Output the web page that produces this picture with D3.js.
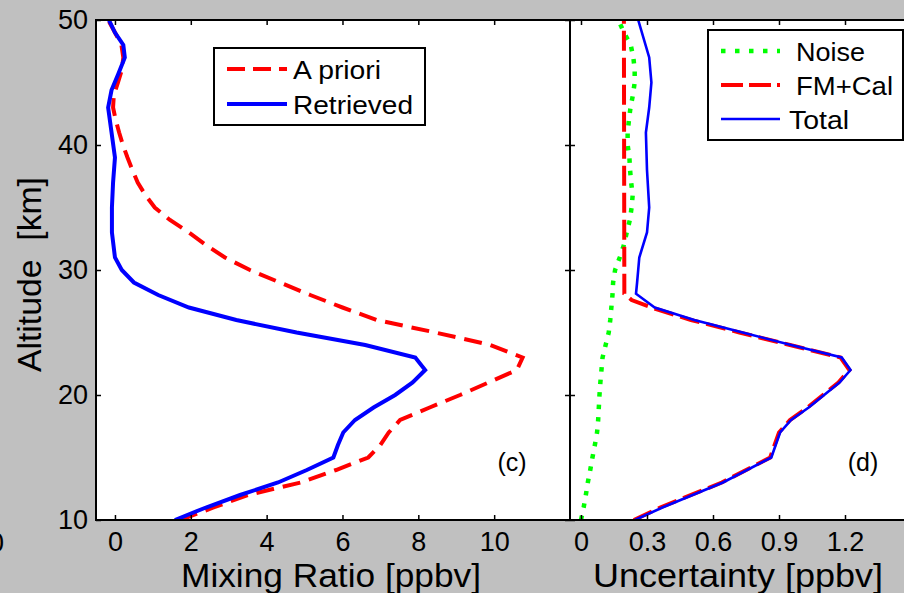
<!DOCTYPE html>
<html>
<head>
<meta charset="utf-8">
<script src="https://cdn.jsdelivr.net/npm/d3@7/dist/d3.min.js"></script>
<style>
  html, body { margin: 0; padding: 0; background: #c0c0c0; }
  svg { display: block; }
  text { font-family: "Liberation Sans", Arial, Helvetica, sans-serif; fill: #000; }
</style>
</head>
<body>
<svg id="chart" width="904" height="593"></svg>
<script>
// ---- Panel (c): mixing ratio profiles ----
const altRetrieved = [10, 11, 12, 13, 14, 15, 16, 17, 18, 19, 20, 21, 22, 23, 24, 25, 26, 27, 28, 29, 30, 31, 33, 35, 37, 39, 41, 43, 44.4, 45.7, 47, 48, 49, 50];
const retrieved    = [1.58, 2.4, 3.3, 4.3, 5.06, 5.76, 5.88, 6.02, 6.33, 6.82, 7.39, 7.85, 8.18, 7.92, 6.6, 4.79, 3.2, 1.95, 1.14, 0.5, 0.18, 0.0, -0.08, -0.08, -0.05, 0.0, -0.09, -0.18, -0.09, 0.09, 0.26, 0.22, 0.0, -0.16];

const altApriori = [10, 11, 12, 13, 14, 15, 16, 17, 18, 19, 20, 21, 22, 23, 24, 25, 26, 27, 28, 29, 30, 31, 32, 33, 34, 35, 36, 37, 38, 39, 40, 41, 42, 43, 44, 45, 46, 47, 48, 49, 50];
const apriori    = [1.72, 2.6, 3.5, 4.9, 5.83, 6.68, 7.0, 7.22, 7.52, 8.3, 9.1, 9.85, 10.6, 10.75, 9.9, 8.45, 6.9, 6.0, 5.15, 4.35, 3.56, 2.9, 2.4, 1.95, 1.45, 1.05, 0.8, 0.6, 0.46, 0.33, 0.21, 0.11, 0.02, -0.05, -0.03, 0.08, 0.18, 0.22, 0.17, 0.0, -0.18];

// ---- Panel (d): uncertainty budget ----
const altNoise = [10, 11, 12, 13, 14, 15, 16, 17, 18, 19, 20, 21, 22, 23, 24, 25, 26, 27, 28, 29, 30, 31, 32, 33, 34, 35, 36, 37, 38, 39, 40, 41, 42, 43, 44, 45, 46, 47, 48, 49, 50];
const noise    = [0.0, 0.012, 0.022, 0.031, 0.042, 0.052, 0.063, 0.073, 0.078, 0.081, 0.084, 0.088, 0.093, 0.098, 0.112, 0.126, 0.133, 0.138, 0.143, 0.146, 0.155, 0.176, 0.195, 0.208, 0.222, 0.23, 0.235, 0.228, 0.223, 0.22, 0.212, 0.212, 0.218, 0.225, 0.236, 0.244, 0.244, 0.238, 0.226, 0.195, 0.17];

const altFmCal = [10, 11, 13, 15, 16, 17, 18, 19, 20, 21, 22, 23, 24, 25, 26, 27, 27.6, 28.1, 50];
const fmCal    = [0.24, 0.36, 0.64, 0.86, 0.88, 0.90, 0.95, 1.03, 1.10, 1.17, 1.22, 1.18, 0.95, 0.72, 0.50, 0.32, 0.23, 0.197, 0.195];

const altTotal = [10, 11, 13, 15, 16, 17, 18, 19, 20, 21, 22, 23, 24, 25, 26, 27, 28.1, 29, 30, 31, 33, 35, 38, 41, 43, 45, 47, 50];
const total    = [0.245, 0.37, 0.645, 0.865, 0.885, 0.905, 0.955, 1.035, 1.105, 1.175, 1.225, 1.185, 0.955, 0.735, 0.515, 0.335, 0.25, 0.255, 0.26, 0.265, 0.30, 0.31, 0.30, 0.295, 0.31, 0.32, 0.31, 0.26];

// ---- Tick labels ----
const altTicks = [10, 20, 30, 40, 50];
const mixTicks = [0, 2, 4, 6, 8, 10];
const uncTicks = [0, 0.3, 0.6, 0.9, 1.2];

const svg = d3.select("#chart");
const W = 904, H = 593;
const plotTop = 20, plotBottom = 520;
const leftP = { x0: 96, x1: 570 };
const rightP = { x0: 570, x1: 911 };

const y = d3.scaleLinear().domain([10, 50]).range([plotBottom, plotTop]);
const xL = d3.scaleLinear().domain([-0.5, 12]).range([leftP.x0, leftP.x1]);
const xR = d3.scaleLinear().domain([-0.05, 1.5]).range([rightP.x0, rightP.x1]);

svg.append("rect").attr("width", W).attr("height", H).attr("fill", "#c0c0c0");

const defs = svg.append("defs");
[["clipL", leftP], ["clipR", rightP]].forEach(([id, p]) => {
  defs.append("clipPath").attr("id", id)
    .append("rect").attr("x", p.x0).attr("y", plotTop)
    .attr("width", p.x1 - p.x0).attr("height", plotBottom - plotTop);
});

// plot backgrounds
[leftP, rightP].forEach(p => {
  svg.append("rect").attr("x", p.x0).attr("y", plotTop)
    .attr("width", p.x1 - p.x0).attr("height", plotBottom - plotTop)
    .attr("fill", "#fff");
});

function drawProfile(g, xs, alts, vals, style) {
  const pts = alts.map((a, i) => [xs(vals[i]), y(a)]);
  g.append("path")
    .attr("d", d3.line()(pts))
    .attr("fill", "none")
    .attr("stroke", style.color)
    .attr("stroke-width", style.width)
    .attr("stroke-dasharray", style.dash || null)
    .attr("stroke-linejoin", "miter")
    .attr("stroke-linecap", style.cap || "butt");
}

const gL = svg.append("g").attr("clip-path", "url(#clipL)");
drawProfile(gL, xL, altApriori, apriori, { color: "#ff0000", width: 4, dash: "18,9" });
drawProfile(gL, xL, altRetrieved, retrieved, { color: "#0000ff", width: 4 });

const gR = svg.append("g").attr("clip-path", "url(#clipR)");
drawProfile(gR, xR, altNoise, noise, { color: "#00ff00", width: 4.5, dash: "4.5,8" });
drawProfile(gR, xR, altFmCal, fmCal, { color: "#ff0000", width: 4, dash: "20,7" });
drawProfile(gR, xR, altTotal, total, { color: "#0000ff", width: 2.6 });

// ---- Axes ----
const tickStyle = g => {
  g.select(".domain").remove();
  g.selectAll(".tick line").attr("stroke", "#000").attr("stroke-width", 1.5);
  g.selectAll(".tick text").attr("font-size", 27).attr("fill", "#000")
    .attr("font-family", "'Liberation Sans', Arial, sans-serif");
};

// panel (c)
svg.append("g").attr("transform", `translate(0,${plotBottom})`)
  .call(d3.axisBottom(xL).tickValues(mixTicks).tickFormat(d3.format("d")).tickSizeInner(-5).tickSizeOuter(0).tickPadding(12))
  .call(tickStyle);
svg.append("g").attr("transform", `translate(0,${plotTop})`)
  .call(d3.axisTop(xL).tickValues(mixTicks).tickFormat("").tickSizeInner(-5).tickSizeOuter(0))
  .call(tickStyle);
svg.append("g").attr("transform", `translate(${leftP.x0},0)`)
  .call(d3.axisLeft(y).tickValues(altTicks).tickFormat(d3.format("d")).tickSizeInner(-5).tickSizeOuter(0).tickPadding(8))
  .call(tickStyle);
svg.append("g").attr("transform", `translate(${leftP.x1},0)`)
  .call(d3.axisRight(y).tickValues(altTicks).tickFormat("").tickSizeInner(-5).tickSizeOuter(0))
  .call(tickStyle);

// panel (d)
svg.append("g").attr("transform", `translate(0,${plotBottom})`)
  .call(d3.axisBottom(xR).tickValues(uncTicks).tickFormat(d => d === 0 ? "0" : d3.format(".1f")(d)).tickSizeInner(-5).tickSizeOuter(0).tickPadding(12))
  .call(tickStyle);
svg.append("g").attr("transform", `translate(0,${plotTop})`)
  .call(d3.axisTop(xR).tickValues(uncTicks).tickFormat("").tickSizeInner(-5).tickSizeOuter(0))
  .call(tickStyle);
svg.append("g").attr("transform", `translate(${rightP.x0},0)`)
  .call(d3.axisLeft(y).tickValues(altTicks).tickFormat("").tickSizeInner(-5).tickSizeOuter(0))
  .call(tickStyle);

// frames
[leftP, rightP].forEach(p => {
  svg.append("rect").attr("x", p.x0).attr("y", plotTop)
    .attr("width", p.x1 - p.x0).attr("height", plotBottom - plotTop)
    .attr("fill", "none").attr("stroke", "#000").attr("stroke-width", 2);
});

// ---- Axis titles (slightly wide lettering) ----
svg.append("text").attr("x", 181).attr("y", 587)
  .attr("font-size", 33)
  .attr("textLength", 300).attr("lengthAdjust", "spacingAndGlyphs")
  .text("Mixing Ratio [ppbv]");
svg.append("text").attr("x", 593).attr("y", 587)
  .attr("font-size", 33)
  .attr("textLength", 290).attr("lengthAdjust", "spacingAndGlyphs")
  .text("Uncertainty [ppbv]");
svg.append("text")
  .attr("transform", "translate(41,372) rotate(-90)")
  .attr("font-size", 33)
  .attr("textLength", 195).attr("lengthAdjust", "spacingAndGlyphs")
  .style("white-space", "pre")
  .text("Altitude  [km]");

// fragment of neighbouring tick label at the left edge
svg.append("text").attr("x", 4).attr("y", 552)
  .attr("text-anchor", "end").attr("font-size", 27).text("0");

// panel tags
svg.append("text").attr("x", 512).attr("y", 471)
  .attr("text-anchor", "middle").attr("font-size", 25).text("(c)");
svg.append("text").attr("x", 863).attr("y", 471)
  .attr("text-anchor", "middle").attr("font-size", 25).text("(d)");

// ---- Legends ----
function legend(box, entries) {
  const g = svg.append("g");
  g.append("rect").attr("x", box.x).attr("y", box.y)
    .attr("width", box.w).attr("height", box.h)
    .attr("fill", "#fff").attr("stroke", "#000").attr("stroke-width", 2);
  entries.forEach(e => {
    g.append("line")
      .attr("x1", e.lx0).attr("x2", e.lx1).attr("y1", e.y).attr("y2", e.y)
      .attr("stroke", e.color).attr("stroke-width", e.width)
      .attr("stroke-dasharray", e.dash || null);
    g.append("text").attr("x", e.tx).attr("y", e.y + 9.5)
      .attr("font-size", 26)
      .attr("textLength", e.len).attr("lengthAdjust", "spacingAndGlyphs")
      .text(e.label);
  });
}

legend({ x: 214, y: 48, w: 211, h: 77 }, [
  { label: "A priori",  color: "#ff0000", width: 4, dash: "18,8", y: 69,  lx0: 227, lx1: 287, tx: 293, len: 88 },
  { label: "Retrieved", color: "#0000ff", width: 4, y: 104, lx0: 227, lx1: 287, tx: 293, len: 120 }
]);

legend({ x: 708, y: 30, w: 195, h: 110 }, [
  { label: "Noise",  color: "#00ff00", width: 4.5, dash: "4.5,9.5", y: 51,  lx0: 721, lx1: 780, tx: 796, len: 69 },
  { label: "FM+Cal", color: "#ff0000", width: 4,   dash: "22,6",   y: 85,  lx0: 721, lx1: 780, tx: 796, len: 97 },
  { label: "Total",  color: "#0000ff", width: 2.6, y: 119, lx0: 721, lx1: 780, tx: 789, len: 60 }
]);
</script>
</body>
</html>
